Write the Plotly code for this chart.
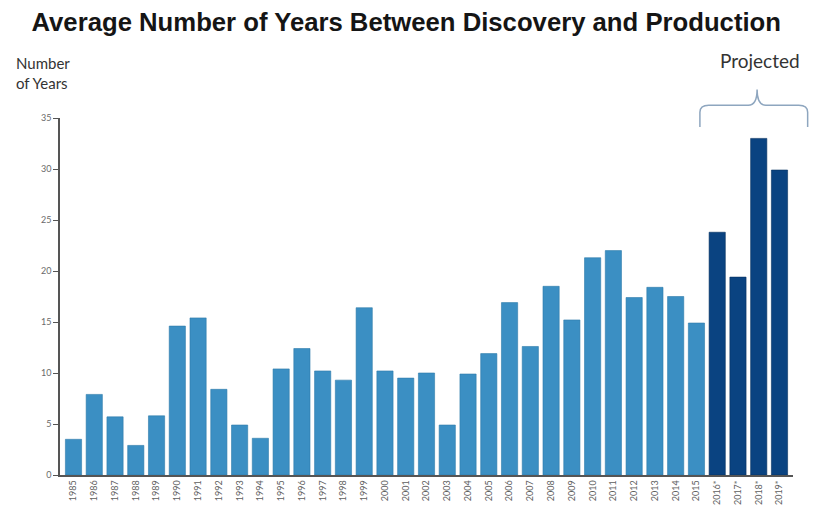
import plotly.graph_objects as go

# Average years between discovery and production, by year of first production
years = [str(y) for y in range(1985, 2016)] + ["2016*", "2017*", "2018*", "2019*"]
avg_years = [3.5, 7.9, 5.7, 2.9, 5.8, 14.6, 15.4, 8.4, 4.9, 3.6,
             10.4, 12.4, 10.2, 9.3, 16.4, 10.2, 9.5, 10.0, 4.9, 9.9,
             11.9, 16.9, 12.6, 18.5, 15.2, 21.3, 22.0, 17.4, 18.4, 17.5,
             14.9, 23.8, 19.4, 33.0, 29.9]
projected = [y.endswith("*") for y in years]

LIGHT = "#3b8fc3"
DARK = "#0a4381"
colors = [DARK if p else LIGHT for p in projected]
edges = ["#07305f" if p else "#2d7aa9" for p in projected]

fig = go.Figure(go.Bar(
    x=years, y=avg_years,
    marker=dict(color=colors, line=dict(color=edges, width=0.6)),
))

fig.update_layout(
    width=824, height=513,
    margin=dict(l=60, r=31, t=118, b=38),
    paper_bgcolor="white", plot_bgcolor="white",
    bargap=0.22,
    showlegend=False,
    title=dict(
        text="<b>Average Number of Years Between Discovery and Production</b>",
        x=0.493, xanchor="center", xref="container",
        y=1 - 22 / 513, yanchor="middle", yref="container",
        font=dict(family="Liberation Sans, Arial, sans-serif", size=25.7, color="#151515"),
    ),
    xaxis=dict(
        type="category", range=[-0.65, 34.65], automargin=False,
        tickangle=-90, tickfont=dict(family="Lato, sans-serif", size=9, color="#5e5e5e"),
        showline=True, linecolor="#555", linewidth=1.5,
        ticks="", showgrid=False,
    ),
    yaxis=dict(
        range=[0, 35], tickvals=[0, 5, 10, 15, 20, 25, 30, 35], automargin=False,
        tickfont=dict(family="Lato, sans-serif", size=9, color="#6a6a6a"),
        showline=True, linecolor="#555", linewidth=1.5,
        ticks="outside", ticklen=5, tickcolor="#555", tickwidth=1.2,
        showgrid=False, zeroline=False,
    ),
)

fig.add_annotation(
    text="Number<br>of Years", xref="paper", yref="paper",
    x=-0.063, y=1.126, xanchor="left", yanchor="middle", align="left",
    showarrow=False,
    font=dict(family="Lato, sans-serif", size=15, color="#333"),
)
fig.add_annotation(
    text="Projected", xref="paper", yref="paper",
    x=0.955, y=1.161, xanchor="center", yanchor="middle",
    showarrow=False,
    font=dict(family="Lato, sans-serif", size=19, color="#333"),
)

# Brace over the projected years
xl, xm, xr = 0.873, 0.951, 1.020
yb, yh, yt = 0.975, 1.036, 1.080
r = 0.012
brace = (f"M {xl},{yb} L {xl},{yh - 0.02} Q {xl},{yh} {xl + r},{yh} "
         f"L {xm - r},{yh} Q {xm},{yh} {xm},{yt} "
         f"Q {xm},{yh} {xm + r},{yh} L {xr - r},{yh} "
         f"Q {xr},{yh} {xr},{yh - 0.02} L {xr},{yb}")
fig.add_shape(type="path", path=brace, xref="paper", yref="paper",
              line=dict(color="#8ea6bf", width=1.5))

fig.write_html("out.html")
